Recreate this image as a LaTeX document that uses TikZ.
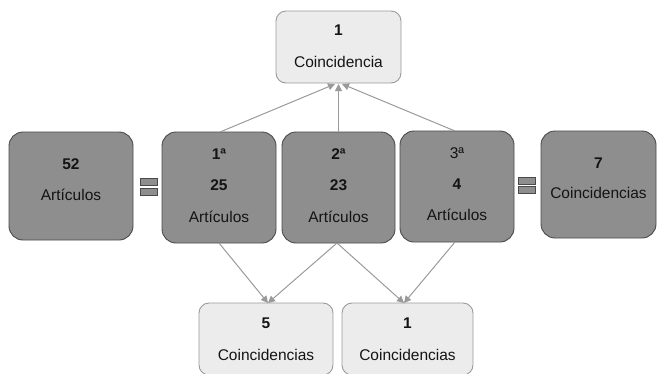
\documentclass[tikz,border=0pt]{standalone}
\usepackage{fontspec}
\setmainfont{Liberation Sans}
\usetikzlibrary{arrows.meta}
\definecolor{darkfill}{HTML}{8E8E8E}
\definecolor{darkline}{HTML}{4A4A4A}
\definecolor{lightfill}{HTML}{ECECEC}
\definecolor{lightline}{HTML}{9A9A9A}
\definecolor{arrowc}{HTML}{9A9A9A}
\tikzset{
  darkbox/.style={draw=darkline, line width=0.9pt, fill=darkfill, rounded corners=14pt, inner sep=0pt},
  lightbox/.style={draw=lightline, line width=0.9pt, fill=lightfill, rounded corners=10pt, inner sep=0pt},
  txt/.style={font=\fontsize{15.5}{17}\selectfont, text=black!92, inner sep=0pt},
  conn/.style={draw=arrowc, line width=1pt, -{Triangle[width=7pt,length=7pt]}},
  eqbar/.style={draw=darkline, line width=0.7pt, fill=darkfill},
}
\begin{document}
\begin{tikzpicture}[x=1pt,y=-1pt]
\useasboundingbox (0,0) rectangle (664,373);
% boxes
\node[lightbox, minimum width=125pt, minimum height=72pt] (top) at (338.5,47) {};
\node[darkbox, minimum width=124pt, minimum height=108pt] (b52) at (71,186) {};
\node[darkbox, minimum width=114pt, minimum height=111pt] (b1) at (219,187.5) {};
\node[darkbox, minimum width=113pt, minimum height=111pt] (b2) at (338.5,187.5) {};
\node[darkbox, minimum width=114pt, minimum height=111pt] (b3) at (457,186.5) {};
\node[darkbox, minimum width=115pt, minimum height=107pt] (b7) at (598.5,184.5) {};
\node[lightbox, minimum width=134pt, minimum height=72pt] (c5) at (266,339) {};
\node[lightbox, minimum width=131pt, minimum height=72pt] (c1) at (407.5,339) {};
% texts
\node[txt] (t1) at (338.5,30) {\bfseries 1};
\node[txt] (t2) at (338.5,62) {Coincidencia};
\node[txt] (n52) at (71,164) {\bfseries 52};
\node[txt] (a52) at (71,195) {Artículos};
\node[txt] (o1) at (219,154) {\bfseries 1ª};
\node[txt] (n25) at (219,185) {\bfseries 25};
\node[txt] (a1) at (219,217) {Artículos};
\node[txt] (o2) at (338.5,154) {\bfseries 2ª};
\node[txt] (n23) at (338.5,185) {\bfseries 23};
\node[txt] (a2) at (338.5,217) {Artículos};
\node[txt] (o3) at (457,153) {3ª};
\node[txt] (n4) at (457,184) {\bfseries 4};
\node[txt] (a3) at (457,215) {Artículos};
\node[txt] (n7) at (598.5,163) {\bfseries 7};
\node[txt] (a7) at (598.5,193) {Coincidencias};
\node[txt] (n5) at (266,323) {\bfseries 5};
\node[txt] (a5) at (266,355) {Coincidencias};
\node[txt] (n1b) at (407.5,323) {\bfseries 1};
\node[txt] (a1b) at (407.5,355) {Coincidencias};
% equals signs
\node[eqbar, minimum width=17pt, minimum height=7pt, inner sep=0pt] (eqa) at (148.5,182) {};
\node[eqbar, minimum width=17pt, minimum height=7pt, inner sep=0pt] (eqb) at (148.5,191.5) {};
\node[eqbar, minimum width=17pt, minimum height=7pt, inner sep=0pt] (eqc) at (527,180.5) {};
\node[eqbar, minimum width=17pt, minimum height=7pt, inner sep=0pt] (eqd) at (527,190) {};
% connectors
\coordinate (b1t) at (220,132);
\coordinate (b2t) at (338.5,132);
\coordinate (b3t) at (455,131);
\coordinate (topl) at (335,84);
\coordinate (topm) at (338.5,84);
\coordinate (topr) at (342,84);
\draw[conn] (b1t) -- (topl);
\draw[conn] (b2t) -- (topm);
\draw[conn] (b3t) -- (topr);
\coordinate (b1b) at (219,243);
\coordinate (b2b) at (337,243);
\coordinate (b3b) at (455,242);
\coordinate (c5t) at (268,303);
\coordinate (c1t) at (404,303);
\draw[conn] (b1b) -- (c5t);
\draw[conn] (b2b) -- (c5t);
\draw[conn] (b2b) -- (c1t);
\draw[conn] (b3b) -- (c1t);
\end{tikzpicture}
\end{document}
